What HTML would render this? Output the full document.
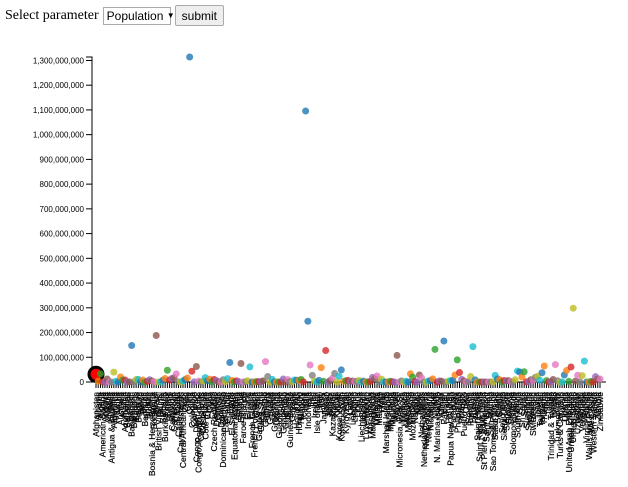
<!DOCTYPE html>
<html><head><meta charset="utf-8">
<style>
body{margin:0;background:#fff;width:628px;height:487px;overflow:hidden;font-family:"Liberation Serif",serif;}
#ctrl{position:absolute;left:5px;top:5px;font-size:14px;display:flex;align-items:center;}
#sel{margin-left:4px;height:18px;border:1px solid #aaa;font:12px "Liberation Sans",sans-serif;padding:0 3px;display:flex;align-items:center;width:68px;box-sizing:border-box;}
#btn{margin-left:4px;height:19px;border:1px solid #aaa;background:#eee;font:12px "Liberation Sans",sans-serif;padding:0 6px;display:flex;align-items:center;border-radius:2px;}
svg{position:absolute;left:0;top:0;}
text{font-family:"Liberation Sans",sans-serif;}
</style></head><body>
<div id="ctrl"><span>Select parameter</span>
<div id="sel">Population&nbsp;<span style="font-size:8px">▼</span></div>
<div id="btn">submit</div></div>
<svg id="chart" width="628" height="487"></svg>
<script>
const countries=["Afghanistan","Albania","Algeria","American Samoa","Andorra","Angola","Anguilla","Antigua & Barbuda","Argentina","Armenia","Aruba","Australia","Austria","Azerbaijan","Bahamas","Bahrain","Bangladesh","Barbados","Belarus","Belgium","Belize","Benin","Bermuda","Bhutan","Bolivia","Bosnia & Herzegovina","Botswana","Brazil","British Virgin Is.","Brunei","Bulgaria","Burkina Faso","Burma","Burundi","Cambodia","Cameroon","Canada","Cape Verde","Cayman Islands","Central African Rep.","Chad","Chile","China","Colombia","Comoros","Congo, Dem. Rep.","Congo, Repub. of the","Cook Islands","Costa Rica","Cote d'Ivoire","Croatia","Cuba","Cyprus","Czech Republic","Denmark","Djibouti","Dominica","Dominican Republic","East Timor","Ecuador","Egypt","El Salvador","Equatorial Guinea","Eritrea","Estonia","Ethiopia","Faroe Islands","Fiji","Finland","France","French Guiana","French Polynesia","Gabon","Gambia, The","Gaza Strip","Georgia","Germany","Ghana","Gibraltar","Greece","Greenland","Grenada","Guadeloupe","Guam","Guatemala","Guernsey","Guinea","Guinea-Bissau","Guyana","Haiti","Honduras","Hong Kong","Hungary","Iceland","India","Indonesia","Iran","Iraq","Ireland","Isle of Man","Israel","Italy","Jamaica","Japan","Jersey","Jordan","Kazakhstan","Kenya","Kiribati","Korea, North","Korea, South","Kuwait","Kyrgyzstan","Laos","Latvia","Lebanon","Lesotho","Liberia","Libya","Liechtenstein","Lithuania","Luxembourg","Macau","Macedonia","Madagascar","Malawi","Malaysia","Maldives","Mali","Malta","Marshall Islands","Martinique","Mauritania","Mauritius","Mayotte","Mexico","Micronesia, Fed. St.","Moldova","Monaco","Mongolia","Montserrat","Morocco","Mozambique","Namibia","Nauru","Nepal","Netherlands","Netherlands Antilles","New Caledonia","New Zealand","Nicaragua","Niger","Nigeria","N. Mariana Islands","Norway","Oman","Pakistan","Palau","Panama","Papua New Guinea","Paraguay","Peru","Philippines","Poland","Portugal","Puerto Rico","Qatar","Reunion","Romania","Russia","Rwanda","Saint Helena","Saint Kitts & Nevis","Saint Lucia","St Pierre & Miquelon","Saint Vincent","Samoa","San Marino","Sao Tome & Principe","Saudi Arabia","Senegal","Serbia","Seychelles","Sierra Leone","Singapore","Slovakia","Slovenia","Solomon Islands","Somalia","South Africa","Spain","Sri Lanka","Sudan","Suriname","Swaziland","Sweden","Switzerland","Syria","Taiwan","Tajikistan","Tanzania","Thailand","Togo","Tonga","Trinidad & Tobago","Tunisia","Turkey","Turkmenistan","Turks & Caicos Is","Tuvalu","Uganda","Ukraine","United Arab Emirates","United Kingdom","United States","Uruguay","Uzbekistan","Vanuatu","Venezuela","Vietnam","Virgin Islands","Wallis and Futuna","West Bank","Western Sahara","Yemen","Zambia","Zimbabwe"];
const populationM=[31.1,3.6,32.9,0.06,0.07,12.1,0.01,0.07,39.9,3.0,0.07,20.3,8.2,7.96,0.3,0.7,147.4,0.28,10.3,10.4,0.29,7.9,0.07,2.3,9.0,4.5,1.6,188.1,0.02,0.38,7.4,13.9,47.4,8.1,13.9,17.3,33.1,0.42,0.05,4.3,9.9,16.1,1313.97,43.6,0.69,62.7,3.7,0.02,4.1,17.7,4.5,11.4,0.78,10.2,5.5,0.49,0.07,9.2,1.06,13.5,78.9,6.8,0.54,4.8,1.3,74.8,0.05,0.9,5.2,60.9,0.2,0.27,1.4,1.6,1.4,4.7,82.4,22.4,0.03,10.7,0.06,0.09,0.45,0.17,12.3,0.07,9.7,1.4,0.77,8.3,7.3,6.9,10.0,0.3,1095.4,245.5,68.7,26.8,4.1,0.08,6.4,58.1,2.8,127.5,0.09,5.9,15.2,34.7,0.1,23.1,48.8,2.4,5.2,6.4,2.3,3.9,2.0,3.0,5.9,0.03,3.6,0.47,0.45,2.05,18.6,13.0,24.4,0.36,11.7,0.4,0.06,0.44,3.2,1.2,0.2,107.4,0.11,4.5,0.03,2.8,0.009,33.2,19.7,2.0,0.013,28.3,16.5,0.22,0.22,4.1,5.6,12.5,131.9,0.08,4.6,3.1,165.8,0.02,3.2,5.7,6.5,28.3,89.5,38.5,10.6,3.9,0.89,0.79,22.3,142.9,8.6,0.007,0.04,0.17,0.007,0.12,0.18,0.03,0.19,27.0,11.9,9.4,0.08,6.0,4.5,5.4,2.0,0.55,8.9,44.2,40.4,20.2,41.2,0.44,1.1,9.0,7.5,18.9,23.0,7.3,37.4,64.6,5.5,0.11,1.07,10.2,70.4,5.0,0.02,0.01,28.2,46.7,2.6,60.6,298.4,3.4,27.3,0.2,25.7,84.4,0.1,0.016,2.5,0.27,21.5,11.5,12.2];
const yTicks=[0,100,200,300,400,500,600,700,800,900,1000,1100,1200,1300];
const selectedIndex=0;
const NS="http://www.w3.org/2000/svg";
const svg=document.getElementById('chart');
const X0=96,X1=600,Y0=382,Y1=57,yMax=1313.97;
const xScale=i=>X0+i*(X1-X0)/(countries.length-1);
const yScale=v=>Y0-(v/yMax)*(Y0-Y1);
const pal=["#1f77b4","#ff7f0e","#2ca02c","#d62728","#9467bd","#8c564b","#e377c2","#7f7f7f","#bcbd22","#17becf"];
const colorFor=(i,v)=>v>1000||v===245.5||v===147.4||v===165.8?pal[0]:(v===298.4?pal[8]:(v===188.1?pal[5]:pal[i%10]));
function mk(t,a){const e=document.createElementNS(NS,t);for(const k in a)e.setAttribute(k,a[k]);svg.appendChild(e);return e;}
const ya=mk('path',{d:`M86,${Y1}H92V${Y0}H86`,stroke:'#000',fill:'none'});


yTicks.forEach(t=>{const y=yScale(t);
 const l=mk('line',{x1:86,x2:92,y1:y,y2:y,stroke:'#000'});
 
 
 const tx=mk('text',{x:84,y:y+3,'text-anchor':'end','font-size':'8px',fill:'#000'});
 tx.textContent=(t*1e6).toLocaleString('en-US');
 
 
});
const xa=mk('path',{d:`M92,${Y0}H606`,stroke:'#000',fill:'none'});


countries.forEach((c,i)=>{const x=xScale(i);
 const l=mk('line',{x1:x,x2:x,y1:Y0,y2:Y0+6,stroke:'#000','stroke-width':1});
 
 
 const tx=mk('text',{transform:`translate(${x+3},${Y0+10}) rotate(-90)`,'text-anchor':'end','font-size':'8.5px',fill:'#000','stroke':'#000','stroke-width':0.2});
 tx.textContent=c;
 
 
});
countries.forEach((c,i)=>{
 const sel=i===selectedIndex;
 const v=populationM[i];
 const p=mk('circle',{cx:xScale(i),cy:yScale(v),r:sel?7:3.5,fill:sel?'#f00':colorFor(i,v),'fill-opacity':sel?1:0.8,stroke:sel?'#000':'none','stroke-width':sel?3:0});
 
 
});
</script>
</body></html>
